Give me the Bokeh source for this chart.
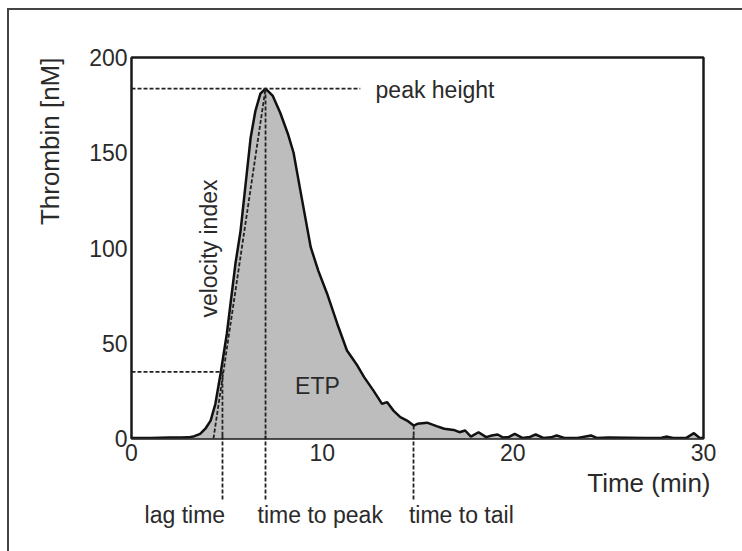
import math
from bokeh.plotting import figure
from bokeh.models import Range1d, FixedTicker, Label, LinearAxis, Title, InlineStyleSheet
from bokeh.embed import file_html
from bokeh.resources import INLINE

# ---- data ----
time_min = [0, 1.0, 2.0, 2.6, 3.0, 3.3, 3.6, 3.9, 4.15, 4.4, 4.67, 5.0, 5.45, 5.72,
            6.0, 6.25, 6.5, 6.76, 7.03, 7.4, 7.8, 8.2, 8.5, 8.86, 9.4, 9.8, 10.26,
            10.8, 11.3, 11.8, 12.2, 12.7, 13.14, 13.4, 13.75, 14.1, 14.45, 14.8,
            15.0, 15.5, 16.0, 16.4, 16.9, 17.2, 17.5, 17.8, 18.2, 18.6, 18.9, 19.2,
            19.5, 19.8, 20.1, 20.5, 20.9, 21.2, 21.6, 22.0, 22.3, 22.7, 23.4, 24.1,
            24.4, 25.0, 26.0, 27.0, 27.8, 28.1, 28.4, 29.1, 29.5, 29.8, 30.0]
thrombin_nM = [0.3, 0.2, 0.5, 0.5, 0.6, 1.2, 2.4, 5.5, 9.4, 18.2, 34, 55, 91.7, 109,
               135, 158, 172, 181, 183.7, 180, 171, 160, 150, 130, 100.4, 88, 76,
               60, 46.2, 39, 32.2, 25, 18.2, 19.1, 14.5, 11.2, 9.4, 6.8,
               7.7, 8.3, 6.5, 5.1, 4.5, 3.3, 4.2, 1.0, 3.3, 0.7, 1.6, 2.1,
               0.5, 0.8, 2.4, 0.3, 0.8, 2.1, 0.3, 0.6, 1.6, 0.3, 0.3, 1.6,
               0.3, 0.5, 0.4, 0.3, 0.4, 1.0, 0.3, 0.3, 2.8, 0.3, 0.3]
x_ticks = [0, 10, 20, 30]
y_ticks = [0, 50, 100, 150, 200]

lag_time = 4.77
lag_level = 35
peak_time = 7.03
peak_height = 183.7
tail_time = 14.8
tail_level = 6.8
velocity_start = 4.3

marker_names = ["lag time", "time to peak", "time to tail"]
marker_label_pos = [2.8, 9.9, 17.3]

FONT = "Liberation Sans"
TXT = "#2a2a2a"
DASH = "4 2"
BORDER = "#444444"

p = figure(width=742, height=551, x_range=Range1d(0, 30), y_range=Range1d(0, 200),
           output_backend="svg", toolbar_location=None,
           min_border_left=131, min_border_right=39, min_border_top=57,
           min_border_bottom=113)
p.background_fill_color = "white"
p.border_fill_color = "white"
# outer frame of the whole picture (only its left and top edges are in view)
p.stylesheets = [InlineStyleSheet(css=(
    ":host { position: relative; }"
    ":host::after { content: ''; position: absolute; left: 7px; top: 8px; right: 0; bottom: 0;"
    f" border-left: 2px solid {BORDER}; border-top: 2px solid {BORDER};"
    " pointer-events: none; z-index: 10; }"))]
p.grid.visible = False
p.outline_line_color = "#1a1a1a"
p.outline_line_width = 2.5
p.outline_line_alpha = 1

xa = p.xaxis[0]
ya = p.yaxis[0]
for ax in (xa, ya):
    ax.axis_line_color = None
    ax.major_tick_line_color = None
    ax.minor_tick_line_color = None
    ax.major_tick_out = 0
    ax.major_tick_in = 0
    ax.minor_tick_out = 0
    ax.minor_tick_in = 0
    ax.major_label_text_font = FONT
    ax.major_label_text_font_size = "23px"
    ax.major_label_text_color = TXT

xa.ticker = FixedTicker(ticks=x_ticks)
xa.major_label_standoff = 5
ya.ticker = FixedTicker(ticks=y_ticks)
ya.major_label_standoff = 4

# axis titles, aligned to the far end of each axis
time_title = Title(text="Time (min)", align="right", offset=-7, standoff=4,
                   text_font=FONT, text_font_size="26px", text_font_style="normal",
                   text_color=TXT)
thrombin_title = Title(text="Thrombin [nM]", align="right", offset=0, standoff=44,
                       text_font=FONT, text_font_size="26px", text_font_style="normal",
                       text_color=TXT)

# second bottom axis: names of the marked times, dashed minor ticks reaching up
name_axis = LinearAxis(ticker=FixedTicker(ticks=marker_label_pos,
                                          minor_ticks=[lag_time, peak_time, tail_time]),
                       major_label_overrides=dict(zip(marker_label_pos, marker_names)),
                       axis_line_color=None, major_tick_line_color=None,
                       major_tick_out=0, major_tick_in=0,
                       minor_tick_out=0, minor_tick_in=64,
                       minor_tick_line_color="#222222", minor_tick_line_width=1.8,
                       minor_tick_line_dash=DASH,
                       major_label_standoff=2, major_label_text_font=FONT,
                       major_label_text_font_size="23px", major_label_text_color=TXT)
p.below = [xa, time_title, name_axis]
p.left = [ya, thrombin_title]

# filled curve
p.varea(x=time_min, y1=[0] * len(time_min), y2=thrombin_nM, fill_color="#bdbdbd")
p.line(time_min, thrombin_nM, line_color="#111111", line_width=2.5)

# dashed guide lines inside the frame
p.segment(x0=[0, 0, lag_time, peak_time, tail_time, velocity_start],
          y0=[peak_height, lag_level, lag_level, peak_height, tail_level, 0],
          x1=[12.0, lag_time, lag_time, peak_time, tail_time, peak_time],
          y1=[peak_height, lag_level, 0, 0, 0, peak_height],
          line_color="#222222", line_width=1.8, line_dash=DASH)

def lab(x, y, text, size="23px", align="left", angle=0.0):
    p.add_layout(Label(x=x, y=y, text=text, text_font=FONT, text_font_size=size,
                       text_color=TXT, text_align=align, text_baseline="middle",
                       angle=angle))

lab(12.8, 182.7, "peak height")
lab(9.75, 27.8, "ETP", align="center")
lab(4.04, 99.7, "velocity index", angle=math.pi / 2, align="center")

open("out.html", "w").write(file_html(p, INLINE))
